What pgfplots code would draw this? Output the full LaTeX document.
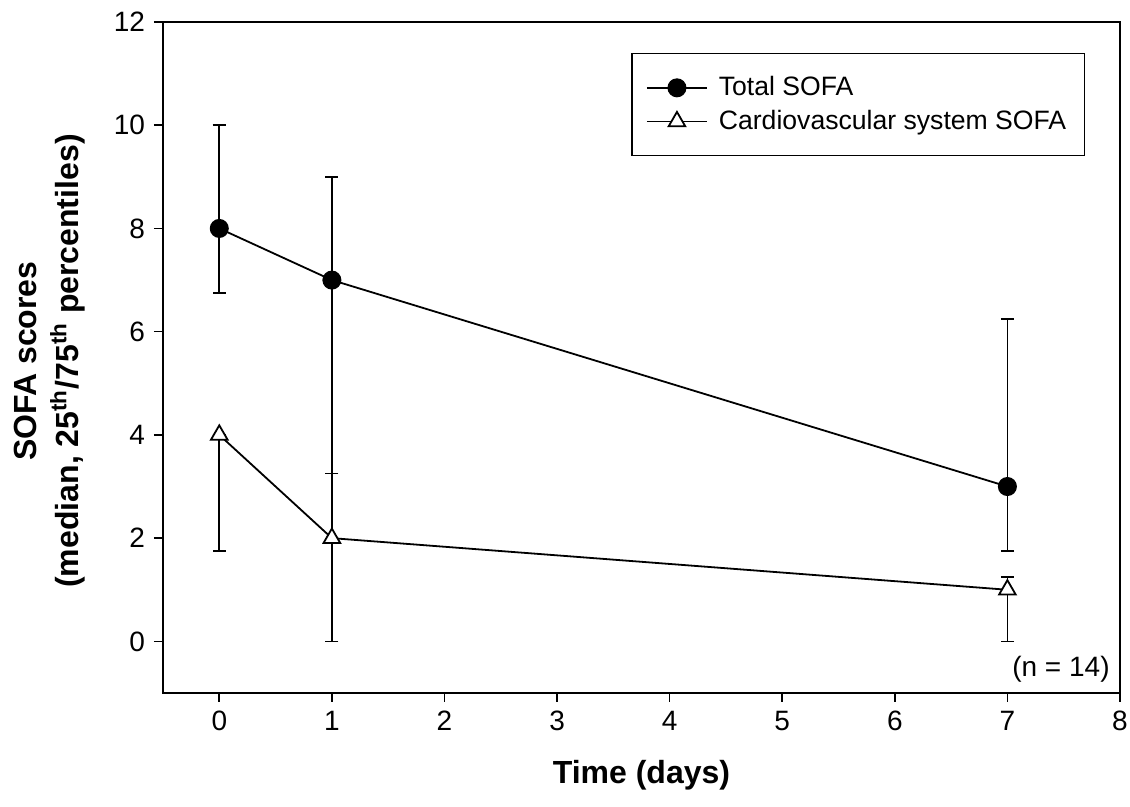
\documentclass[border=0pt]{standalone}
\usepackage{fontspec}
\setmainfont{Liberation Sans}
\usepackage{pgfplots}
\pgfplotsset{compat=1.18}
\usepackage{pgfplotstable}
\pgfplotstableread{
x y ep em
0 8 2 1.25
1 7 2 3.75
7 3 3.25 1.25
}\total
\pgfplotstableread{
x y ep em
0 4 0 2.25
1 2 1.25 2
7 1 0.25 1
}\cardio
\begin{document}
\begin{tikzpicture}
\path[use as bounding box] (-81.5pt,-57pt) rectangle (483.5pt,346.5pt);
\begin{axis}[
  at={(0,0)}, anchor=south west,
  scale only axis, width=478.5pt, height=335.5pt,
  xmin=-0.5, xmax=8, ymin=-1, ymax=12,
  xtick={0,1,...,8}, ytick={0,2,...,12},
  tick align=outside, xtick pos=bottom, ytick pos=left,
  major tick length=4.5pt,
  tick style={black, line width=0.8pt},
  axis line style={line width=0.9pt},
  /pgf/number format/assume math mode=true,
  tick label style={font=\fontsize{14}{16}\selectfont},
  xticklabel style={yshift=-1pt},
  yticklabel style={xshift=-1pt},
  xlabel={\fontsize{16}{19}\selectfont\bfseries Time (days)},
  xlabel style={at={(axis description cs:0.5,0)}, anchor=center, yshift=-41pt},
  ylabel={},
  legend style={at={(rel axis cs:0.9634,0.9538)}, anchor=north east, draw=black, line width=0.7pt,
    font=\fontsize{13.3}{15}\selectfont, row sep=1.7pt, column sep=3.5pt,
    inner xsep=7pt, inner ysep=9.5pt,
    cells={anchor=west}},
  legend cell align=left,
  legend image code/.code={\draw[mark repeat=2,mark phase=2] plot coordinates {(0pt,0pt)(15pt,0pt)(30pt,0pt)};},
]
\addplot[black, line width=0.9pt, mark=*, mark size=4.3pt, mark options={fill=black},
  error bars/.cd, y dir=both, y explicit,
  error bar style={line width=0.8pt},
  error mark options={rotate=90, mark size=3.3pt, line width=0.8pt}]
  table[x=x, y=y, y error plus=ep, y error minus=em] {\total};
\addlegendentry{Total SOFA}
\addplot[black, line width=0.9pt, mark=triangle*, mark size=4.8pt, mark options={fill=white},
  error bars/.cd, y dir=both, y explicit,
  error bar style={line width=0.8pt},
  error mark options={rotate=90, mark size=3.3pt, line width=0.8pt}]
  table[x=x, y=y, y error plus=ep, y error minus=em] {\cardio};
\addlegendentry{Cardiovascular system SOFA}
\node[anchor=base east, inner sep=0pt, font=\fontsize{14}{16}\selectfont] at (rel axis cs:0.9896,0.0253) {(n = 14)};
\end{axis}
\node[rotate=90, align=center, font=\fontsize{16}{21}\selectfont\bfseries] at (-56.5pt,166pt)
  {SOFA scores\\(median, 25\textsuperscript{th}/75\textsuperscript{th} percentiles)};
\end{tikzpicture}
\end{document}
